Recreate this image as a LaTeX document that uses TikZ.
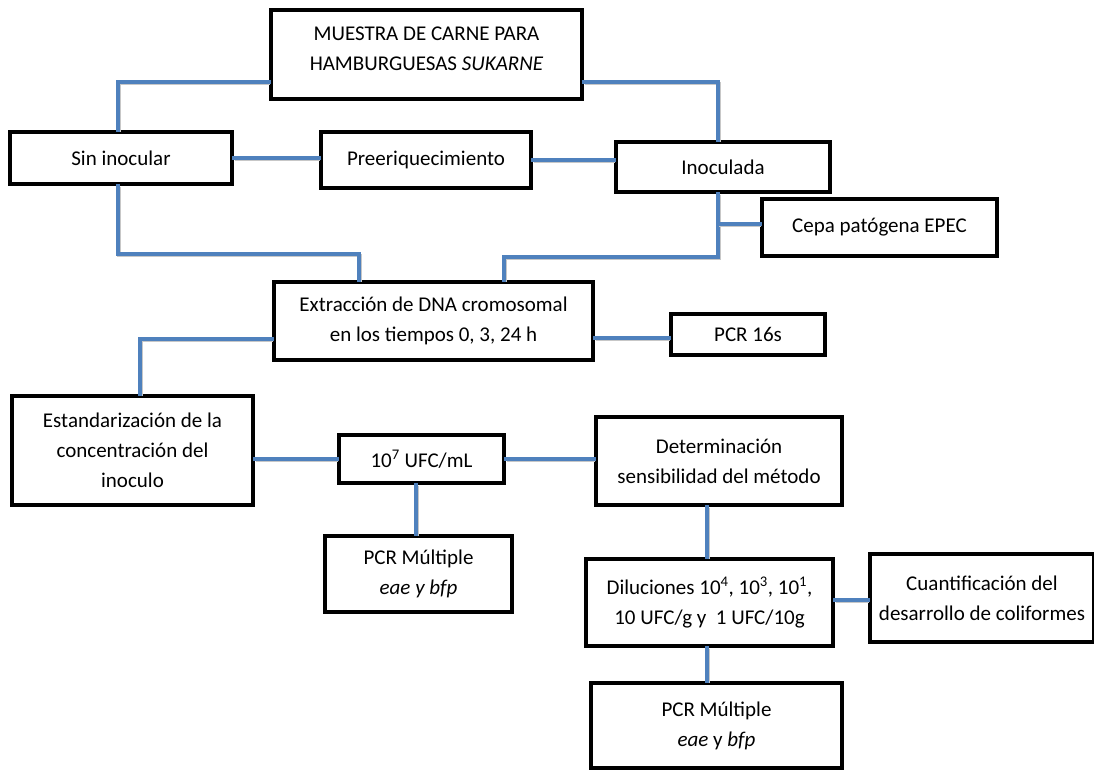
\documentclass[tikz,border=0pt]{standalone}
\usepackage{fontspec}
\setmainfont{Carlito}
\definecolor{lineblue}{RGB}{79,129,189}
\tikzset{
  box/.style={draw=black, line width=3.5pt, fill=white, align=center, inner sep=0pt,
    font=\fontsize{21}{30}\selectfont},
  conn/.style={draw=lineblue, line width=3.5pt, line cap=rect,
    preaction={draw=black!22, line width=3.5pt, transform canvas={shift={(1pt,-1.5pt)}}}}
}
\begin{document}
\begin{tikzpicture}[x=1pt,y=-1pt]
\useasboundingbox (0,0) rectangle (1094,770);
% boxes
\node[box, minimum width=311pt, minimum height=89pt] (M) at (426.5,54.5)
  {MUESTRA DE CARNE PARA\\HAMBURGUESAS \textit{SUKARNE}\\[-28pt]\strut};
\node[box, minimum width=222pt, minimum height=52pt] (S) at (121,158) {Sin inocular};
\node[box, minimum width=210pt, minimum height=56pt] (P) at (426,160) {Preeriquecimiento};
\node[box, minimum width=214pt, minimum height=50pt] (I) at (723,167) {Inoculada};
\node[box, minimum width=235pt, minimum height=57pt] (C) at (879.5,227.5) {Cepa patógena EPEC};
\node[box, minimum width=319pt, minimum height=78pt] (E) at (433.5,321) {Extracción de DNA cromosomal\\en los tiempos 0, 3, 24 h};
\node[box, minimum width=154pt, minimum height=41pt] (R) at (748,334.5) {PCR 16s};
\node[box, minimum width=241pt, minimum height=109pt] (St) at (132.5,450.5) {Estandarización de la\\concentración del\\inoculo};
\node[box, minimum width=165pt, minimum height=48pt] (U) at (421.5,459) {10\textsuperscript{7} UFC/mL};
\node[box, minimum width=187pt, minimum height=76pt] (PL) at (418.5,574) {PCR Múltiple\\\textit{eae y bfp}};
\node[box, minimum width=246pt, minimum height=88pt] (D) at (719,461) {Determinación\\sensibilidad del método};
\node[box, minimum width=247pt, minimum height=87pt] (Di) at (709.5,602.5) {Diluciones 10\textsuperscript{4}, 10\textsuperscript{3}, 10\textsuperscript{1},\\10 UFC/g y\ \ 1 UFC/10g};
\node[box, minimum width=224pt, minimum height=88pt] (Cu) at (982,598) {Cuantificación del\\desarrollo de coliformes};
\node[box, minimum width=251pt, minimum height=85pt] (PB) at (716.5,725.5) {PCR Múltiple\\\textit{eae} y \textit{bfp}};
% junction coordinates
\coordinate (j1) at (118,82);
\coordinate (j2) at (718,82);
\coordinate (k1) at (359,254);
\coordinate (k2) at (504,257);
\coordinate (k3) at (718,224);
\coordinate (k4) at (600,338);
\coordinate (k5) at (140,339);
\coordinate (k6) at (416,459);
\coordinate (k7) at (707,600);
% connectors
\draw[conn] (j1 |- S.north) -- (j1) -- (j1 -| M.west);
\draw[conn] (j2 |- I.north) -- (j2) -- (j2 -| M.east);
\draw[conn] (S.east) -- (S.east -| P.west);
\draw[conn] (P.east) -- (P.east -| I.west);
\draw[conn] (j1 |- S.south) |- (k1) -- (k1 |- E.north);
\draw[conn] (j2 |- I.south) |- (k2) -- (k2 |- E.north);
\draw[conn] (k3) -- (k3 -| C.west);
\draw[conn] (k4 -| E.east) -- (k4 -| R.west);
\draw[conn] (k5 -| E.west) -- (k5) -- (k5 |- St.north);
\draw[conn] (U.west -| St.east) -- (U.west);
\draw[conn] (U.east) -- (U.east -| D.west);
\draw[conn] (k6 |- U.south) -- (k6 |- PL.north);
\draw[conn] (k7 |- D.south) -- (k7 |- Di.north);
\draw[conn] (k7 -| Di.east) -- (k7 -| Cu.west);
\draw[conn] (k7 |- Di.south) -- (k7 |- PB.north);
\end{tikzpicture}
\end{document}
